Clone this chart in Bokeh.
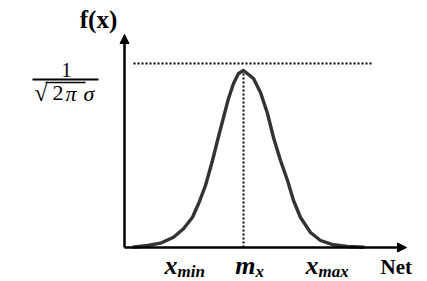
from bokeh.plotting import figure
from bokeh.models import Range1d, Arrow, NormalHead, ColumnDataSource
from bokeh.core.properties import value
from bokeh.embed import file_html
from bokeh.resources import INLINE

# curve (x along Net axis, y = f(x)), origin at axes corner
curve_x = [8, 23, 36, 49, 59, 68, 74, 81, 88, 93, 99, 104, 109, 114, 119,
           129, 136, 143, 149, 156, 163, 169, 176, 186, 196, 209, 223, 240]
curve_y = [0.3, 2, 4.3, 10.3, 18.7, 30.3, 43.7, 62, 87, 107, 130, 149, 164, 174, 177,
           169, 155, 134, 110, 87, 67, 47, 30, 15, 7, 2.7, 1, 0.3]
peak_x = 119
peak_y = 176
max_level = 184
level_x_start = 9
level_x_end = 248
y_axis_top = 213
x_axis_end = 282

tick_values = [53, 119, 194]
tick_main = ["x", "m", "x"]
tick_sub = ["min", "x", "max"]
tick_join = [0, 12, 0]

FONT = value("Liberation Serif")

p = figure(width=427, height=281, output_backend="svg", toolbar_location=None,
           x_range=Range1d(-124, 303), y_range=Range1d(-34, 247),
           x_axis_type=None, y_axis_type=None, min_border=0)
p.outline_line_color = None
p.grid.visible = False
p.background_fill_color = "white"

# axes with arrows
p.add_layout(Arrow(end=NormalHead(size=9, fill_color="black", line_color="black"),
                   x_start=0, y_start=0, x_end=0, y_end=y_axis_top,
                   line_width=2.5, line_color="black"))
p.add_layout(Arrow(end=NormalHead(size=9, fill_color="black", line_color="black"),
                   x_start=0, y_start=0, x_end=x_axis_end, y_end=0,
                   line_width=2.5, line_color="black"))

# dotted max level and mean line
p.line([level_x_start, level_x_end], [max_level, max_level], line_dash="2 2",
       line_width=2, line_color="black")
p.line([peak_x, peak_x], [0, peak_y], line_dash="2 2", line_width=2, line_color="black")

# gaussian curve
p.line(curve_x, curve_y, line_width=3.4, line_color="#333333", line_join="round")

# tick labels
src = ColumnDataSource(dict(x=[t + j for t, j in zip(tick_values, tick_join)],
                            main=tick_main, sub=tick_sub))
p.text(x="x", y=-17.5, text="main", source=src, text_font=FONT, text_font_size="26px",
       text_font_style="bold italic", text_align="right", text_baseline="alphabetic",
       text_color="black")
p.text(x="x", y=-24, text="sub", source=src, text_font=FONT, text_font_size="17px",
       text_font_style="bold italic", text_align="left", text_baseline="alphabetic",
       text_color="black")

p.text(x=[256], y=[-19], text=["Net"], text_font=FONT, text_font_size="21px",
       text_font_style="bold", text_align="left", text_baseline="alphabetic", text_color="black")
p.text(x=[-26], y=[228], text=["f(x)"], text_font=FONT, text_font_size="25px",
       text_font_style="bold", text_align="center", text_baseline="alphabetic", text_color="black")

# y label 1/sqrt(2 pi sigma)
p.text(x=[-58], y=[177.5], text=["1"], text_font=FONT, text_font_size="20px",
       text_align="center", text_baseline="alphabetic", text_color="black")
p.line([-92, -26], [168, 168], line_width=1.8, line_color="black")
p.text(x=[-90], y=[155], text=["√"], text_font=FONT, text_font_size="24px",
       text_align="left", text_baseline="alphabetic", text_color="black")
p.line([-79, -39], [165, 165], line_width=1.3, line_color="black")
p.text(x=[-72], y=[154.5], text=["2"], text_font=FONT, text_font_size="22px",
       text_align="left", text_baseline="alphabetic", text_color="black")
p.text(x=[-59], y=[154.5], text=["π"], text_font=FONT, text_font_size="22px",
       text_font_style="italic", text_align="left", text_baseline="alphabetic", text_color="black")
p.text(x=[-41], y=[154.5], text=["σ"], text_font=FONT, text_font_size="22px",
       text_font_style="italic", text_align="left", text_baseline="alphabetic", text_color="black")

open("out.html", "w").write(file_html(p, INLINE))
